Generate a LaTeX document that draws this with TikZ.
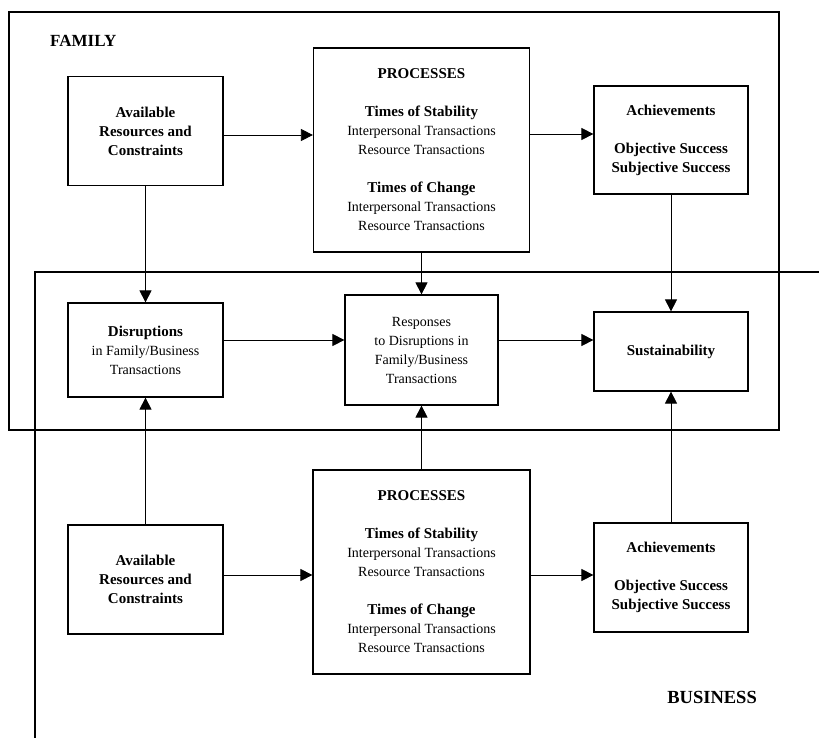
\documentclass[tikz,border=0pt]{standalone}
\usepackage{fontspec}
\setmainfont{Liberation Serif}
\usetikzlibrary{arrows.meta,calc}
\newcommand\bt{\fontsize{15}{19}\selectfont\bfseries}
\newcommand\rt{\fontsize{14}{19}\selectfont\mdseries}
\tikzset{
  box/.style={draw, line width=1.2pt, align=center, inner sep=0pt, font=\fontsize{14}{19}\selectfont},
  con/.style={line width=0.8pt, -{Triangle[length=12pt,width=12pt]}},
  frm/.style={line width=2pt},
  ttl/.style={font=\fontsize{17}{20}\selectfont\bfseries, inner sep=0pt},
}
\begin{document}
\begin{tikzpicture}[x=1pt,y=-1pt]
\fill[white] (0,0) rectangle (819,738);
\useasboundingbox (0,0) rectangle (819,738);
% frames
\draw[frm] (9,12) rectangle (779,430);
\draw[frm] (35,740) -- (35,272) -- (821,272);
\node[ttl, anchor=west] (fam) at (50,41) {FAMILY};
\node[ttl, font=\fontsize{18.5}{20}\selectfont\bfseries, anchor=east] (bus) at (757,697) {BUSINESS};
% family row
\node[box, minimum width=155pt, minimum height=109pt] (avF) at (145.5,131)
  {\bt Available\\ \bt Resources and\\ \bt Constraints};
\node[box, minimum width=216pt, minimum height=204pt] (prF) at (421.5,150)
  {{\bt PROCESSES}\\[19pt] \bt Times of Stability\\ \rt Interpersonal Transactions\\ \rt Resource Transactions\\[19pt]
   \bt Times of Change\\ \rt Interpersonal Transactions\\ \rt Resource Transactions};
\node[box, minimum width=154pt, minimum height=108pt] (acF) at (671,140)
  {\bt Achievements\\[19pt] \bt Objective Success\\ \bt Subjective Success};
% middle row
\node[box, minimum width=155pt, minimum height=94pt] (dis) at (145.5,350)
  {\bt Disruptions\\ \rt in Family/Business\\ \rt Transactions};
\node[box, minimum width=153pt, minimum height=110pt] (res) at (421.5,350)
  {\rt Responses\\ \rt to Disruptions in\\ \rt Family/Business\\ \rt Transactions};
\node[box, minimum width=154pt, minimum height=79pt] (sus) at (671,351.5)
  {\bt Sustainability};
% business row
\node[box, minimum width=155pt, minimum height=109pt] (avB) at (145.5,579.5)
  {\bt Available\\ \bt Resources and\\ \bt Constraints};
\node[box, minimum width=217pt, minimum height=204pt] (prB) at (421.5,572)
  {{\bt PROCESSES}\\[19pt] \bt Times of Stability\\ \rt Interpersonal Transactions\\ \rt Resource Transactions\\[19pt]
   \bt Times of Change\\ \rt Interpersonal Transactions\\ \rt Resource Transactions};
\node[box, minimum width=154pt, minimum height=109pt] (acB) at (671,577.5)
  {\bt Achievements\\[19pt] \bt Objective Success\\ \bt Subjective Success};
% connectors
\draw[con] ([yshift=-4pt]avF.east) -- ([yshift=-4pt]avF.east -| prF.west);
\draw[con] ([yshift=6pt]acF.west -| prF.east) -- ([yshift=6pt]acF.west);
\draw[con] (avF) -- (dis);
\draw[con] (prF) -- (res);
\draw[con] (acF) -- (sus);
\draw[con] ([yshift=10pt]dis.east) -- ([yshift=10pt]dis.east -| res.west);
\draw[con] ([yshift=10pt]res.east) -- ([yshift=10pt]res.east -| sus.west);
\draw[con] (avB) -- (dis);
\draw[con] (prB) -- (res);
\draw[con] (acB) -- (sus);
\draw[con] ([yshift=4.5pt]avB.east) -- ([yshift=4.5pt]avB.east -| prB.west);
\draw[con] ([yshift=4.5pt]avB.east -| prB.east) -- ([yshift=4.5pt]avB.east -| acB.west);
\end{tikzpicture}
\end{document}
